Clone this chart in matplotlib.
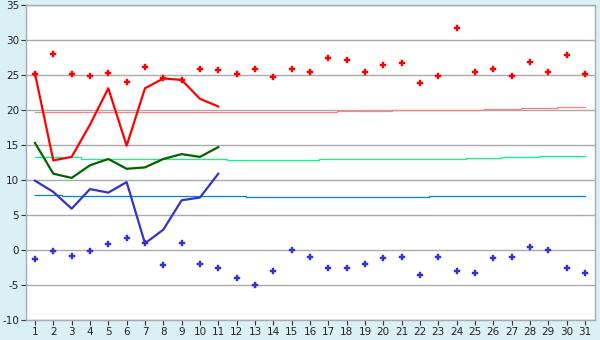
import numpy as np
from matplotlib import pyplot as plt

plt.rcParams['axes.unicode_minus'] = False

# day of month
DAYS = list(range(1, 32))

# daily extremes (markers)
MAX_DOTS = [25.2, 28.0, 25.1, 24.9, 25.3, 24.0, 26.1, 24.6, 24.3, 25.8,
            25.7, 25.2, 25.8, 24.7, 25.9, 25.5, 27.4, 27.1, 25.5, 26.4,
            26.7, 23.9, 24.9, 31.7, 25.4, 25.8, 24.9, 26.9, 25.5, 27.9, 25.2]
MIN_DOTS = [-1.3, -0.2, -0.8, -0.2, 0.9, 1.7, 0.95, -2.2, 0.95, -2.0,
            -2.5, -4.0, -5.0, -3.0, 0.0, -1.0, -2.6, -2.5, -2.0, -1.2,
            -1.0, -3.6, -1.0, -3.0, -3.3, -1.2, -1.0, 0.5, 0.0, -2.6, -3.3]

# current month curves (days 1-11)
LINE_DAYS = list(range(1, 12))
MAX_LINE = [25.2, 12.8, 13.3, 17.9, 23.1, 14.9, 23.1, 24.5, 24.3, 21.6, 20.5]
MEAN_LINE = [15.3, 10.9, 10.3, 12.1, 13.0, 11.6, 11.8, 13.0, 13.7, 13.3, 14.7]
MIN_LINE = [9.9, 8.3, 5.9, 8.7, 8.2, 9.7, 0.95, 2.9, 7.1, 7.5, 10.9]

# normals
NORM_MAX = [19.67] * 17 + [19.81] * 3 + [20.0] * 5 + [20.14] * 2 + [20.29] * 2 + [20.43] * 2
NORM_MEAN = [13.24] * 3 + [12.95] * 8 + [12.81] * 5 + [12.95] * 8 + [13.1] * 2 + [13.24] * 2 + [13.38] * 3
NORM_MIN = [7.86] * 2 + [7.71] * 10 + [7.57] * 10 + [7.71] * 9

BG = '#daf0f6'
GRID = '#aaaaaa'

fig = plt.figure(figsize=(6, 3.4), dpi=100, facecolor=BG)
ax = fig.add_axes([26 / 600, 1 - 320 / 340, (595 - 26) / 600, 315 / 340])
ax.set_facecolor('white')

ax.plot(DAYS, NORM_MAX, drawstyle='steps-mid', color='#ff8080', lw=0.9, zorder=2)
ax.plot(DAYS, NORM_MEAN, drawstyle='steps-mid', color='#00ff80', lw=0.9, zorder=2)
ax.plot(DAYS, NORM_MIN, drawstyle='steps-mid', color='#0080ff', lw=0.9, zorder=2)

ax.plot(LINE_DAYS, MAX_LINE, color='#ff0000', lw=1.6, zorder=3)
ax.plot(LINE_DAYS, MEAN_LINE, color='#006400', lw=1.6, zorder=3)
ax.plot(LINE_DAYS, MIN_LINE, color='#3333cc', lw=1.6, zorder=3)

ax.plot(DAYS, MAX_DOTS, ls='none', marker='P', ms=4.2, color='#ff0000',
        markeredgewidth=0.3, zorder=4)
ax.plot(DAYS, MIN_DOTS, ls='none', marker='P', ms=4.2, color='#3333cc',
        markeredgewidth=0.3, zorder=4)

ax.set_xlim(0.51, 31.55)
ax.set_ylim(-10, 35)
ax.set_xticks(DAYS)
ax.set_yticks(np.arange(-10, 36, 5))
ax.yaxis.grid(True, color=GRID, lw=1)
ax.set_axisbelow(True)
for side in ['left', 'right', 'top', 'bottom']:
    ax.spines[side].set_color(GRID)
    ax.spines[side].set_linewidth(1)
ax.tick_params(axis='both', labelsize=7.5, length=3.5, width=0.8, color='#333333',
               pad=1.5, labelcolor='#222222')

fig.savefig('out.png', dpi=100, facecolor=BG)
